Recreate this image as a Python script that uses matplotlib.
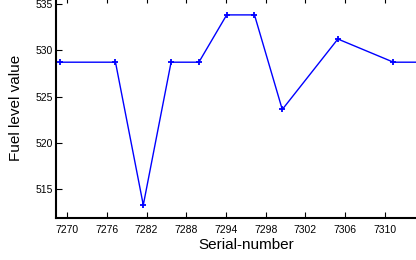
import matplotlib
matplotlib.use('Agg')
import matplotlib.pyplot as plt

# sample positions (plot order) and fuel readings
positions = [0, 2, 3, 4, 5, 6, 7, 8, 10, 12, 13]
fuel = [528.7, 528.7, 513.3, 528.7, 528.7, 533.8, 533.8, 523.6, 531.2, 528.7, 528.7]

tick_pos = [0.26 + k * 10 / 7 for k in range(9)]
tick_labels = ['7270', '7276', '7282', '7288', '7294', '7298', '7302', '7306', '7310']

plt.rcParams['font.family'] = ['Liberation Sans', 'DejaVu Sans']

fig = plt.figure(figsize=(4.16, 2.6), dpi=100)
# axes runs past the top and right edge, as in the cropped original
ax = fig.add_axes([56 / 416, 42 / 260, 380 / 416, 221 / 260])

ax.plot(positions, fuel, color='#0000ff', linewidth=1, marker='+',
        markersize=4, markeredgewidth=1.3)

ax.set_xlim(-0.14, 13.53)
ax.set_ylim(511.9, 535.73)
ax.set_xticks(tick_pos)
ax.set_xticklabels(tick_labels)
ax.set_yticks([515, 520, 525, 530, 535])

ax.tick_params(direction='in', length=4, width=0.8, labelsize=7.5, pad=2,
               top=True, right=True)
ax.tick_params(axis='x', pad=5)
for side in ['left', 'bottom']:
    ax.spines[side].set_linewidth(1.5)

ax.set_xlabel('Serial-number', fontsize=11, labelpad=2)
ax.set_ylabel('Fuel level value', fontsize=11, labelpad=9)

fig.savefig('out.png', dpi=100)
